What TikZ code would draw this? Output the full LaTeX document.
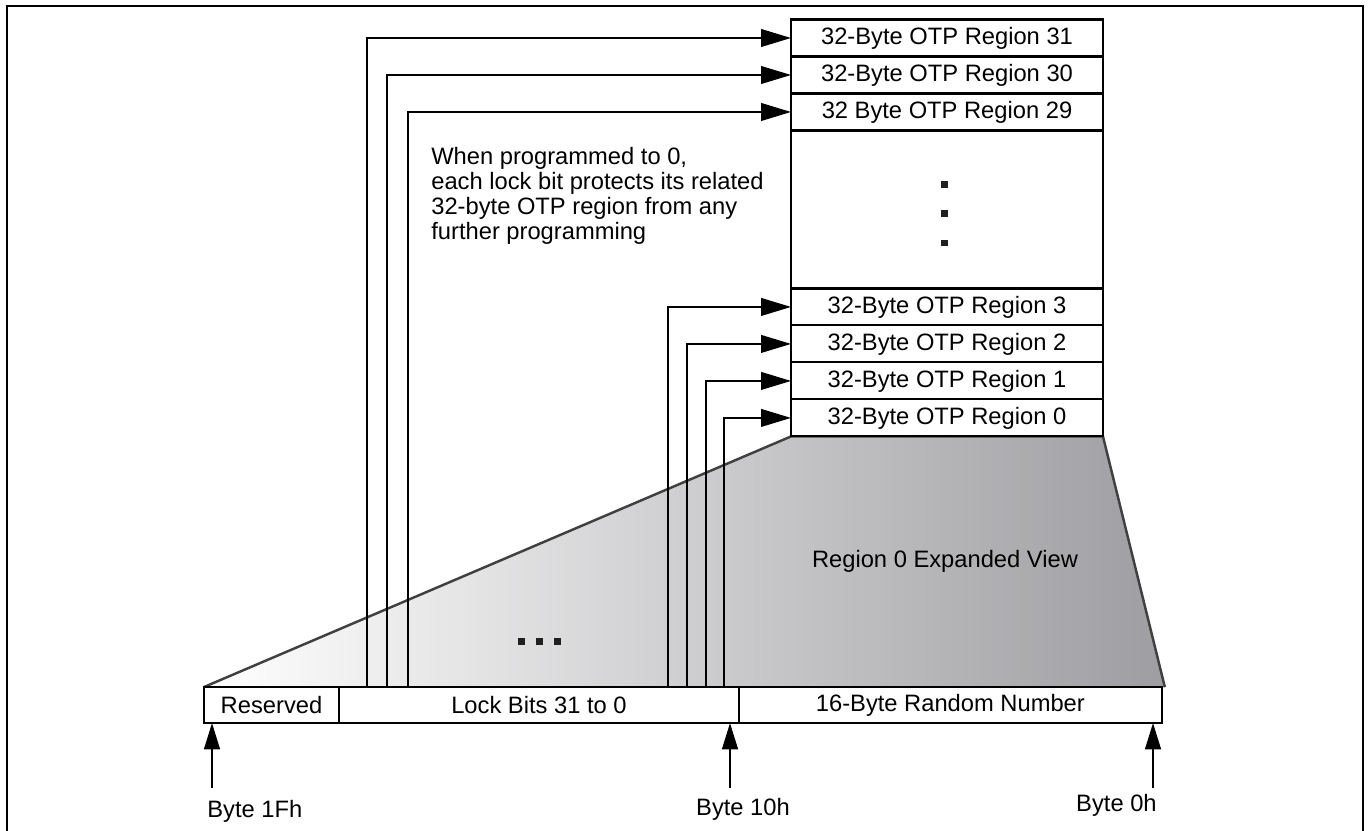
\documentclass[tikz,border=0pt]{standalone}
\usepackage{fontspec}
\setmainfont{Liberation Sans}
\usetikzlibrary{arrows.meta,positioning,backgrounds}

\begin{document}
\begin{tikzpicture}[
    x=0.02cm, y=-0.02cm,
    node distance=0pt,
    otp/.style={rectangle,draw=black,line width=1.2pt,fill=white,
                minimum width=6.24cm,minimum height=0.74cm,
                inner sep=0pt,outer sep=0pt,font=\fontsize{13.5}{15}\selectfont},
    seg/.style={rectangle,draw=black,line width=1.2pt,fill=white,
                minimum height=0.72cm,inner sep=0pt,outer sep=0pt,
                font=\fontsize{13.5}{15}\selectfont},
    dot/.style={rectangle,fill=black!88,minimum size=0.14cm,inner sep=0pt},
    lockarrow/.style={-{Triangle[length=17pt,width=10pt]},line width=1.1pt},
    bytearrow/.style={-{Triangle[length=15pt,width=9pt]},line width=1.1pt},
    lbl/.style={font=\fontsize{13.5}{14.3}\selectfont,inner sep=0pt}
  ]
    \useasboundingbox (0,0) rectangle (1369,831);
    \draw[line width=1pt] (7,840) -- (7,6) -- (1363,6) -- (1363,840);

    % OTP regions, stacked
    \node[otp] (r31) at (947,38) {32-Byte OTP Region 31};
    \node[otp,below=of r31] (r30) {32-Byte OTP Region 30};
    \node[otp,below=of r30] (r29) {32 Byte OTP Region 29};
    \node[otp,below=of r29,minimum height=3.16cm] (gap) {};
    \node[otp,below=of gap] (r3) {32-Byte OTP Region 3};
    \node[otp,below=of r3] (r2) {32-Byte OTP Region 2};
    \node[otp,below=of r2] (r1) {32-Byte OTP Region 1};
    \node[otp,below=of r1] (r0) {32-Byte OTP Region 0};
    \foreach \y in {185,214,243}
      \node[dot] at (944,\y) {};

    % Bottom row: the 32 bytes of region 0
    \node[seg,minimum width=2.7cm] (res) at (271.5,705) {Reserved};
    \node[seg,minimum width=8cm,right=of res] (lock) {Lock Bits 31 to 0};
    \node[seg,minimum width=8.46cm,right=of lock] (rnd) {16-Byte Random Number};

    % Expanded view
    \begin{scope}[on background layer]
      \fill[left color=white,right color={rgb,255:red,158;green,158;blue,162}]
        (res.north west) -- (r0.south west) -- (r0.south east)
        -- ([xshift=0.06cm]rnd.north east) -- cycle;
      \draw[black!75,line width=1.4pt,line join=round]
        (res.north west) -- (r0.south west) -- (r0.south east)
        -- ([xshift=0.06cm]rnd.north east);
    \end{scope}
    \node[lbl] (view) at (945,561) {Region 0 Expanded View};
    \foreach \x in {521,539,557}
      \node[dot] at (\x,641) {};

    \node[lbl,anchor=north west,align=left] (note) at (431,147)
      {When programmed to 0,\\each lock bit protects its related\\
       32-byte OTP region from any\\further programming};

    % Lock bits
    \coordinate (lb31) at (367,687);
    \coordinate (lb30) at (387,687);
    \coordinate (lb29) at (408,687);
    \coordinate (lb3) at (668,687);
    \coordinate (lb2) at (687,687);
    \coordinate (lb1) at (706,687);
    \coordinate (lb0) at (724,687);
    \draw[lockarrow] (lb31) |- (r31.west);
    \draw[lockarrow] (lb30) |- (r30.west);
    \draw[lockarrow] (lb29) |- (r29.west);
    \draw[lockarrow] (lb3) |- (r3.west);
    \draw[lockarrow] (lb2) |- (r2.west);
    \draw[lockarrow] (lb1) |- (r1.west);
    \draw[lockarrow] (lb0) |- (r0.west);

    % Byte addresses
    \coordinate (p1F) at (212,788);
    \coordinate (p10) at (730,788);
    \coordinate (p0) at (1153,788);
    \draw[bytearrow] (p1F) -- (p1F |- res.south);
    \draw[bytearrow] (p10) -- (p10 |- lock.south);
    \draw[bytearrow] (p0) -- (p0 |- rnd.south);
    \node[lbl,anchor=base west] (t1F) at (207,817) {Byte 1Fh};
    \node[lbl,anchor=base] (t10) at (743,815) {Byte 10h};
    \node[lbl,anchor=base east] (t0) at (1157,811) {Byte 0h};
  \end{tikzpicture}
\end{document}
